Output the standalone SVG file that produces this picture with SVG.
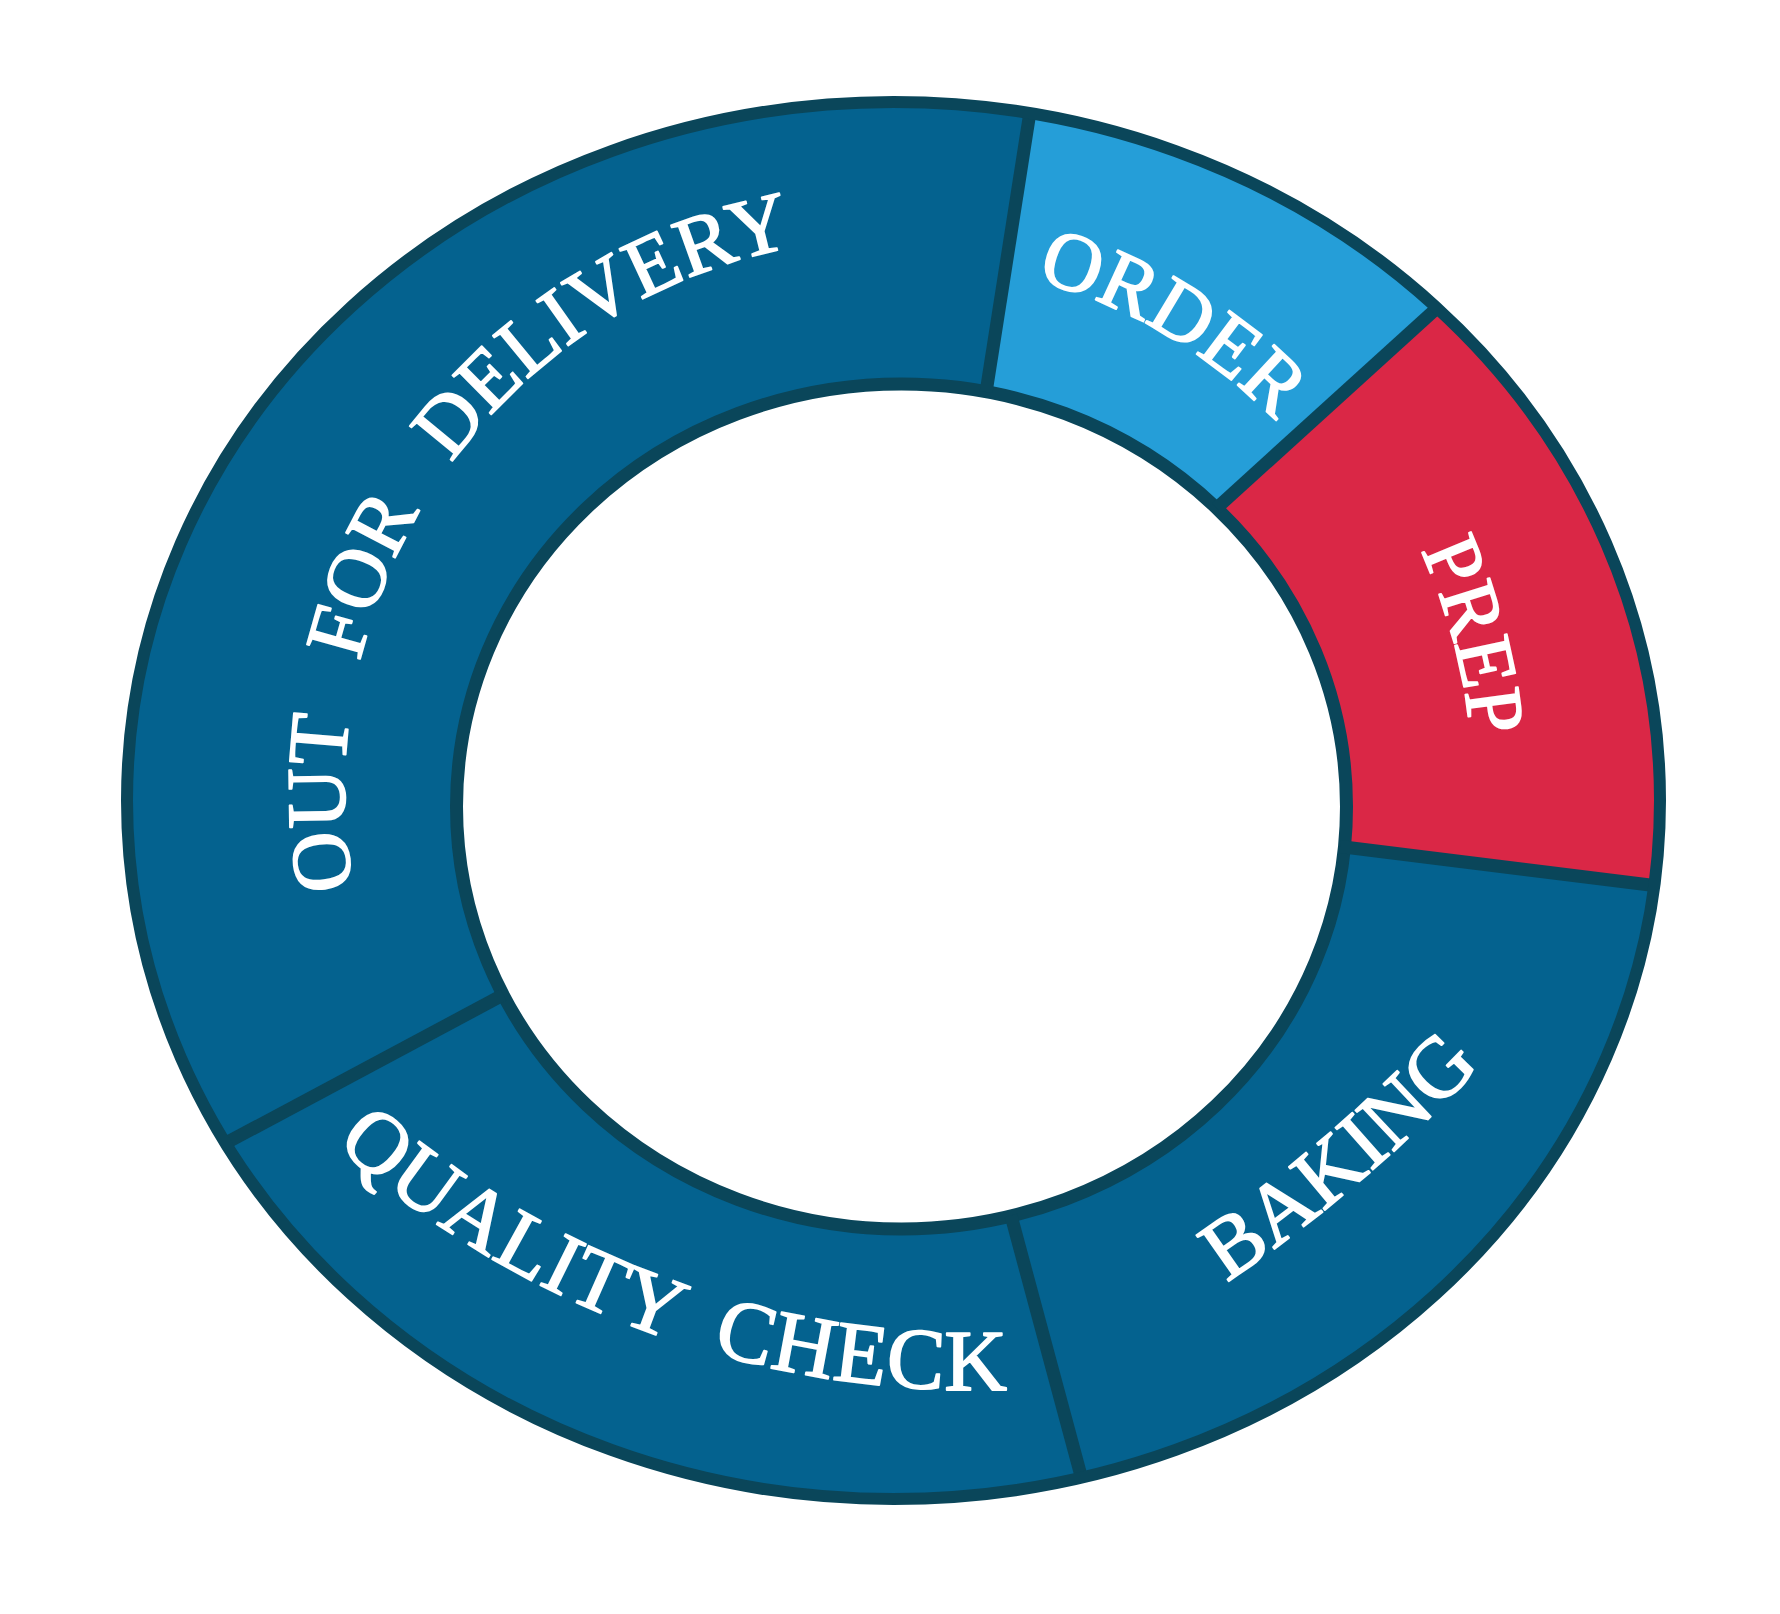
<svg xmlns="http://www.w3.org/2000/svg" width="1780" height="1614" viewBox="0 0 1780 1614">
<style>
.seg{stroke:none}
.dark{fill:#04628f}
.light{fill:#259ed8}
.red{fill:#da2746}
.lbl{font-family:"Liberation Serif","Times New Roman",serif;fill:#ffffff;stroke:#ffffff;stroke-width:1.8;stroke-linejoin:round;font-weight:normal}
.div{stroke:#0a465a;stroke-width:13;fill:none;stroke-linecap:butt}
.rim{fill:none;stroke:#0a465a;stroke-width:12}
.hub{fill:#ffffff;stroke:#0a465a;stroke-width:13}
</style>
<defs>
<clipPath id="ring"><ellipse cx="893.5" cy="800.5" rx="766.5" ry="698.5"/></clipPath>
<path id="p-out" d="M 447.4 1111.1 A 553 553 0 0 1 1036.1 254.6"/>
<path id="p-order" d="M 809.9 269.4 A 528 528 0 0 1 1395.4 612.9"/>
<path id="p-prep" d="M 1227.8 319 A 575 575 0 0 1 1419.1 1033"/>
<path id="p-baking" d="M 1146.8 1332.9 A 1500 1500 0 0 0 1542.9 994.7"/>
<path id="p-qc" d="M 240.8 1046.7 A 961 961 0 0 0 1143.9 1375.4"/>
</defs>
<rect width="1780" height="1614" fill="#ffffff"/>
<g id="node-out-for-delivery">
<polygon class="seg dark" clip-path="url(#ring)" points="900,800 538.6,975.9 93.1,1214 60,-40 1053.1,-34.9 979.9,431.4"/>
<text class="lbl" font-size="84" word-spacing="36"><textPath href="#p-out" startOffset="50%" text-anchor="middle">OUT FOR DELIVERY</textPath></text>
</g>
<g id="node-order">
<polygon class="seg light" clip-path="url(#ring)" points="900,800 979.9,431.4 1053.1,-34.9 1659,106.3 1186.9,535.1"/>
<text class="lbl" font-size="83"><textPath href="#p-order" startOffset="50%" text-anchor="middle">ORDER</textPath></text>
</g>
<g id="node-prep">
<polygon class="seg red" clip-path="url(#ring)" points="900,800 1186.9,535.1 1659,106.3 1800,106 1802.9,904 1300.3,841.6"/>
<text class="lbl" font-size="81"><textPath href="#p-prep" startOffset="50%" text-anchor="middle">PREP</textPath></text>
</g>
<g id="node-baking">
<polygon class="seg dark" clip-path="url(#ring)" points="900,800 1300.3,841.6 1802.9,904 1800,1630 1120.6,1622.9 1000.6,1176.9"/>
<text class="lbl" font-size="86"><textPath href="#p-baking" startOffset="50%" text-anchor="middle">BAKING</textPath></text>
</g>
<g id="node-quality-check">
<polygon class="seg dark" clip-path="url(#ring)" points="900,800 1000.6,1176.9 1120.6,1622.9 60,1630 93.1,1214 538.6,975.9"/>
<text class="lbl" font-size="87" word-spacing="20" letter-spacing="1"><textPath href="#p-qc" startOffset="50%" text-anchor="middle">QUALITY CHECK</textPath></text>
</g>
<ellipse id="hub" class="hub" cx="901.5" cy="806.5" rx="445" ry="422.5"/>
<g id="dividers">
<line class="div" x1="986.1" y1="391.9" x2="1029.8" y2="113.3"/>
<line class="div" x1="1216.5" y1="508.2" x2="1437" y2="308"/>
<line class="div" x1="1340" y1="846.5" x2="1654" y2="885.5"/>
<line class="div" x1="1011" y1="1215.5" x2="1081.6" y2="1478"/>
<line class="div" x1="503.3" y1="994.8" x2="225.4" y2="1143.3"/>
</g>
<ellipse id="rim" class="rim" cx="893.5" cy="800.5" rx="766.5" ry="698.5"/>
</svg>
